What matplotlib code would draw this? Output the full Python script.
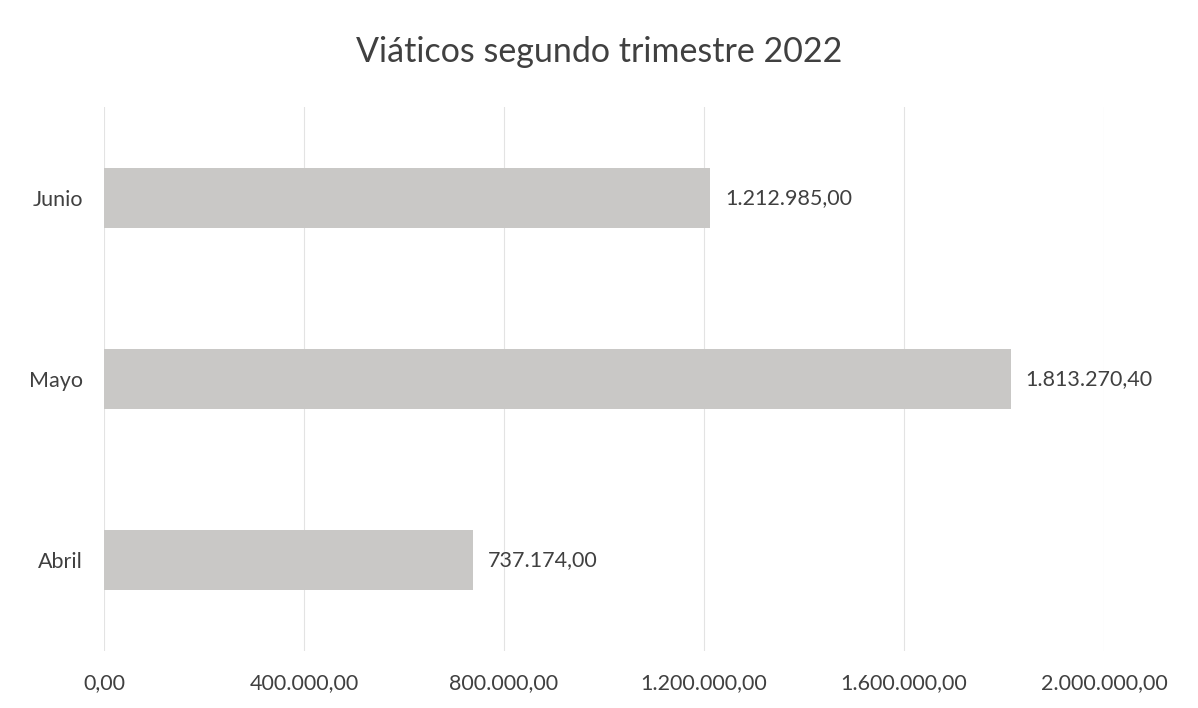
import matplotlib.pyplot as plt

meses = ["Abril", "Mayo", "Junio"]
viaticos = [737174.00, 1813270.40, 1212985.00]
ticks_x = [0, 400000, 800000, 1200000, 1600000, 2000000]


def formato(v):
    # formato español: punto para miles, coma decimal
    s = f"{v:,.2f}"
    return s.replace(",", "X").replace(".", ",").replace("X", ".")


plt.rcParams['font.family'] = ['Lato', 'DejaVu Sans']
texto = '#404040'

fig = plt.figure(figsize=(11.98, 7.08), dpi=100)
ax = fig.add_axes([0.0868, 0.0812, 0.8347, 0.767])

ax.barh(meses, viaticos, height=0.33, color='#c9c8c6', zorder=2)

for i, v in enumerate(viaticos):
    ax.text(v + 30000, i, formato(v), va='center', ha='left', fontsize=15.5, color=texto)

ax.set_xlim(0, 2000000)
ax.set_ylim(-0.5, 2.5)
ax.set_xticks(ticks_x)
ax.set_xticklabels([formato(t) for t in ticks_x])
ax.grid(axis='x', color='#e3e3e3', linewidth=0.8, zorder=0)
ax.tick_params(axis='both', length=0, labelsize=15.5, colors=texto)
ax.tick_params(axis='x', pad=16)
ax.tick_params(axis='y', pad=15)
for s in ax.spines.values():
    s.set_visible(False)

fig.text(0.5, 0.927, "Viáticos segundo trimestre 2022", ha='center', va='center',
         fontsize=24.5, color=texto)

fig.savefig('out.png', dpi=100)
